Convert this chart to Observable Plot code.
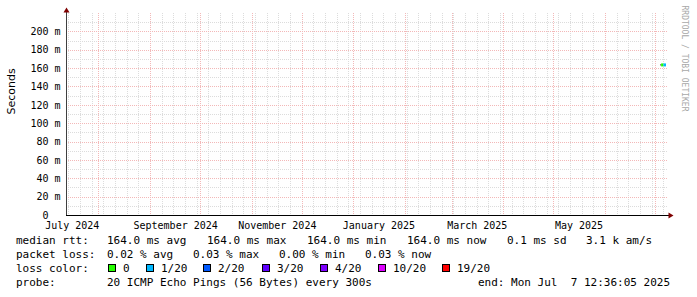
<!DOCTYPE html>
<html><head><meta charset="utf-8">
<script src="https://cdn.jsdelivr.net/npm/d3@7"></script>
<script src="https://cdn.jsdelivr.net/npm/@observablehq/plot@0.6"></script>
<style>
html,body{margin:0;padding:0;background:#fff;}
#chart{position:relative;width:697px;height:297px;overflow:hidden;background:#fff;}
#chart svg{position:absolute;left:0;top:0;}
.lg{position:absolute;font-family:"DejaVu Sans Mono",monospace;font-size:11px;line-height:14px;white-space:pre;color:#000;}
.sw{position:absolute;width:8px;height:8px;box-sizing:border-box;border:1px solid #000;}
</style></head><body><div id="chart"></div>
<script>
// ---- data ----
const rangeStart = "2024-07-12T12:36:05Z";   // last 360 days
const rangeEnd = "2025-07-07T12:36:05Z";
const xLabelDates = ["2024-07-16", "2024-09-16", "2024-11-16", "2025-01-16", "2025-03-16", "2025-05-16"];
const yMajorTicks = [0, 0.02, 0.04, 0.06, 0.08, 0.10, 0.12, 0.14, 0.16, 0.18, 0.20];
const yMinorTicks = [0.01, 0.03, 0.05, 0.07, 0.09, 0.11, 0.13, 0.15, 0.17, 0.19, 0.21];
const yMax = 0.22;

const medianStart = ["2025-07-04T14:00:00Z", "2025-07-06T00:00:00Z"];
const medianEnd   = ["2025-07-06T00:00:00Z", "2025-07-07T12:36:05Z"];
const medianRtt   = [0.164, 0.164];
const medianLoss  = ["0", "1/20"];

const smokeStart = ["2025-07-04T00:00:00Z"];
const smokeEnd   = ["2025-07-04T14:00:00Z"];
const smokeRtt   = [0.164];

const lossLabels = ["0", "1/20", "2/20", "3/20", "4/20", "10/20", "19/20"];
const lossColors = ["#26ff00", "#00b8ff", "#0059ff", "#5e00ff", "#7e00ff", "#dd00ff", "#ff0000"];

const rttStatNames = ["avg", "max", "min", "now"];
const rttStatValues = [164.0, 164.0, 164.0, 164.0];
const rttSd = 0.1;
const rttAmps = 3.1;
const lossStatNames = ["avg", "max", "min", "now"];
const lossStatValues = [0.02, 0.03, 0.00, 0.03];
const probeText = "20 ICMP Echo Pings (56 Bytes) every 300s";
const endText = "end: Mon Jul  7 12:36:05 2025";

// ---- tables ----
const median = medianStart.map((s, i) => ({start: new Date(s), end: new Date(medianEnd[i]), rtt: medianRtt[i], loss: medianLoss[i]}));
const smoke = smokeStart.map((s, i) => ({start: new Date(s), end: new Date(smokeEnd[i]), rtt: smokeRtt[i]}));

const triUp = {draw(ctx) { ctx.moveTo(0, -3); ctx.lineTo(3, 2); ctx.lineTo(-3, 2); ctx.closePath(); }};
const triRight = {draw(ctx) { ctx.moveTo(3, 0); ctx.lineTo(-2, 3); ctx.lineTo(-2, -3); ctx.closePath(); }};

const mono = "DejaVu Sans Mono";
const gridGrey = "#dcdcdc";
const gridRed = "#f3b8b8";

const plot = Plot.plot({
  width: 697, height: 232,
  marginLeft: 66, marginRight: 31, marginTop: 13, marginBottom: 17,
  style: {fontFamily: mono, fontSize: "10px", background: "white", color: "#000"},
  x: {type: "utc", domain: [new Date(rangeStart), new Date(rangeEnd)]},
  y: {domain: [0, yMax]},
  color: {type: "ordinal", domain: lossLabels, range: lossColors},
  marks: [
    Plot.gridX({ticks: d3.utcSunday, stroke: gridGrey, strokeOpacity: 1, strokeDasharray: "1,1", shapeRendering: "crispEdges"}),
    Plot.gridY({ticks: yMinorTicks, stroke: gridGrey, strokeOpacity: 1, strokeDasharray: "1,1", shapeRendering: "crispEdges", insetRight: -2}),
    Plot.gridX({ticks: d3.utcMonth, stroke: gridRed, strokeOpacity: 1, strokeDasharray: "1,1", shapeRendering: "crispEdges"}),
    Plot.gridY({ticks: yMajorTicks.filter(d => d > 0), stroke: gridRed, strokeOpacity: 1, strokeDasharray: "1,1", shapeRendering: "crispEdges", insetRight: -2}),
    Plot.ruleY(smoke, {x1: "start", x2: "end", y: "rtt", stroke: "#222", strokeWidth: 1}),
    Plot.ruleY(median, {x1: "start", x2: "end", y: "rtt", stroke: "loss", strokeWidth: 3}),
    Plot.axisY({ticks: yMajorTicks, tickSize: 0, tickPadding: 6, label: null,
      tickFormat: d => d === 0 ? "0\u00a0\u00a0" : `${Math.round(d * 1000)} m`}),
    Plot.axisX({ticks: xLabelDates.map(d => new Date(d + "T00:00:00Z")), tickSize: 0, tickPadding: 6, label: null,
      tickFormat: d3.utcFormat("%B %Y")}),
    Plot.ruleX([new Date(rangeStart)], {stroke: "#404040", insetTop: -3, shapeRendering: "crispEdges"}),
    Plot.ruleY([0], {stroke: "#000", insetRight: -3, shapeRendering: "crispEdges"}),
    Plot.dot([0], {frameAnchor: "top-left", symbol: triUp, fill: "#7f0000", stroke: "none", dy: -3}),
    Plot.dot([0], {frameAnchor: "bottom-right", symbol: triRight, fill: "#7f0000", stroke: "none", dx: 4}),
    Plot.text(["Seconds"], {frameAnchor: "left", rotate: -90, dx: -55, fontFamily: "DejaVu Sans", fontSize: 11, fill: "#000"}),
    Plot.text(["RRDTOOL / TOBI OETIKER"], {frameAnchor: "top-right", rotate: 90, textAnchor: "start", dx: 21.5, dy: -8, fontFamily: mono, fontSize: 8, fill: "#a8a8a8"})
  ]
});

const chart = document.getElementById("chart");
chart.appendChild(plot);

// ---- legend (HTML below the SVG) ----
function addText(txt, left, top) {
  const d = document.createElement("div");
  d.className = "lg"; d.textContent = txt;
  d.style.left = left + "px"; d.style.top = top + "px";
  chart.appendChild(d);
}
const rowTop = [234, 248, 262, 276];
const col0 = 16;
// row 1
addText("median rtt:", col0, rowTop[0]);
const rttLeft = [107, 207, 307, 407];
rttStatNames.forEach((n, i) => addText(`${rttStatValues[i].toFixed(1)} ms ${n}`, rttLeft[i], rowTop[0]));
addText(`${rttSd.toFixed(1)} ms sd`, 507, rowTop[0]);
addText(`${rttAmps.toFixed(1)} k am/s`, 586, rowTop[0]);
// row 2
addText("packet loss:", col0, rowTop[1]);
const lossLeft = [107, 193, 279, 365];
lossStatNames.forEach((n, i) => addText(`${lossStatValues[i].toFixed(2)} % ${n}`, lossLeft[i], rowTop[1]));
// row 3
addText("loss color:", col0, rowTop[2]);
const swLeft = [108, 146, 203, 262, 320, 378, 442];
lossLabels.forEach((l, i) => {
  const s = document.createElement("div");
  s.className = "sw"; s.style.background = lossColors[i];
  s.style.left = swLeft[i] + "px"; s.style.top = "264px";
  chart.appendChild(s);
  addText(l, swLeft[i] + 15, rowTop[2]);
});
// row 4
addText("probe:", col0, rowTop[3]);
addText(probeText, 107, rowTop[3]);
addText(endText, 478, rowTop[3]);
</script></body></html>
